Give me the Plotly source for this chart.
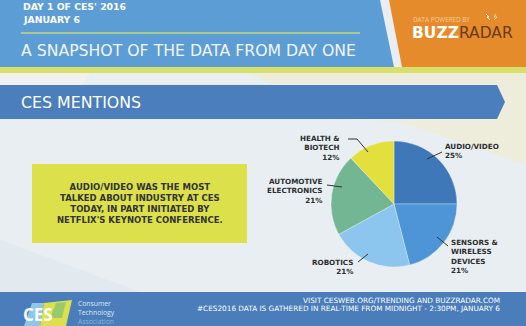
import plotly.graph_objects as go

W, H = 526, 326

categories = ["AUDIO/VIDEO", "SENSORS &<br>WIRELESS<br>DEVICES", "ROBOTICS",
              "AUTOMOTIVE<br>ELECTRONICS", "HEALTH &<br>BIOTECH"]
values = [25, 21, 21, 21, 12]
slice_colors = ["#3F78B9", "#4E95D8", "#8CC5EE", "#73B693", "#E3DF3C"]

header_lines = ["DAY 1 OF CES' 2016", "JANUARY 6"]
header_title = "A SNAPSHOT OF THE DATA FROM DAY ONE"
section_title = "CES MENTIONS"
callout = ["AUDIO/VIDEO WAS THE MOST", "TALKED ABOUT INDUSTRY AT CES",
           "TODAY, IN PART INITIATED BY", "NETFLIX'S KEYNOTE CONFERENCE."]
footer_lines = ["VISIT CESWEB.ORG/TRENDING AND BUZZRADAR.COM",
                "#CES2016 DATA IS GATHERED IN REAL-TIME FROM MIDNIGHT - 2:30PM, JANUARY 6"]
logo_lines = ["Consumer", "Technology", "<span style='color:#8FB2D8'>Association</span>"]


def px(x):
    return x / W


def py(y):
    return 1 - y / H


def rect(x0, y0, x1, y1, color):
    return dict(type="rect", xref="paper", yref="paper", x0=px(x0), x1=px(x1),
                y0=py(y1), y1=py(y0), fillcolor=color, line=dict(width=0), layer="below")


def poly(points, color, layer="below"):
    d = "M " + " L ".join(f"{px(x)},{py(y)}" for x, y in points) + " Z"
    return dict(type="path", xref="paper", yref="paper", path=d, fillcolor=color,
                line=dict(width=0), layer=layer)


def seg(points, color="#333333", width=1):
    d = "M " + " L ".join(f"{px(x)},{py(y)}" for x, y in points)
    return dict(type="path", xref="paper", yref="paper", path=d,
                line=dict(color=color, width=width), layer="above")


def text(x, y, s, size, color, anchor="left", family="DejaVu Sans", bold=False, align=None):
    if bold:
        s = f"<b>{s}</b>"
    return dict(xref="paper", yref="paper", x=px(x), y=py(y), text=s, showarrow=False,
                xanchor=anchor, yanchor="middle", align=align or anchor,
                font=dict(size=size, color=color, family=family))


shapes = [
    rect(0, 0, W, H, "#E8EEF2"),
    poly([(250, 73), (526, 73), (526, 165), (400, 122), (330, 118)], "#EEEDDC"),
    poly([(0, 73), (90, 73), (60, 118), (0, 118)], "#F1F2EF"),
    poly([(0, 240), (140, 292), (0, 292)], "#E2E9EF"),
    rect(0, 0, W, 67, "#5C9DD6"),
    poly([(380, 0), (526, 0), (526, 67), (394, 67)], "#E9EEF2"),
    poly([(389, 0), (526, 0), (526, 67), (402, 67)], "#E58B2C"),
    rect(0, 67, W, 73, "#D8E06A"),
    seg([(21, 33), (360, 33)], "#C3D774", 1.6),
    poly([(0, 85), (497, 85), (505, 102), (497, 119), (0, 119)], "#4A7EBC"),
    rect(32, 164, 247, 243, "#DCE04A"),
    rect(0, 292, W, H, "#4A7DBA"),
    poly([(24, 326), (32, 303), (44, 303), (40, 326)], "#8FC7EA", "above"),
    poly([(40, 326), (44, 303), (72, 300), (66, 326)], "#DDE04C", "above"),
    poly([(50, 318), (56, 303), (66, 302), (62, 318)], "#9ACB6B", "above"),
    # leader lines
    seg([(427, 159), (442, 152)]),
    seg([(348, 139), (357, 139), (368, 152)]),
    seg([(327, 185), (342, 187)]),
    seg([(358, 262), (368, 254)]),
    seg([(437, 237), (448, 246)]),
    # lightning marks
    seg([(486, 14), (489, 17), (487, 17), (490, 20)], "#FFFFFF", 1),
    seg([(496, 14), (494, 17), (497, 17), (494, 20)], "#F6D9A8", 1),
]

F = "DejaVu Sans"
LF = "Open Sans"
LBL = "#2E2E2E"
annotations = [
    text(21, 7, header_lines[0], 9.3, "#FFFFFF", bold=True, family=F),
    text(21, 20, header_lines[1], 9.3, "#FFFFFF", bold=True, family=F),
    text(19, 51, header_title, 15.7, "#F2F6FA", family=F),
    text(411, 19, "DATA POWERED BY", 6.3, "#F7CB96", family=LF),
    text(410, 33, "<b>BUZZ</b><span style='color:#6A3A14'>RADAR</span>", 15.5, "#FFFFFF", family=F),
    text(19, 103, section_title, 15.8, "#FFFFFF", family=F),
    text(140, 203, "<br>".join(callout), 8.5, "#333333", anchor="center", bold=True, family=F),
    text(443, 151, "AUDIO/VIDEO<br>25%", 7.2, LBL, bold=True, family=F),
    text(449, 256, "SENSORS &<br>WIRELESS<br>DEVICES<br>21%", 7.2, LBL, bold=True, family=F),
    text(355, 267, "ROBOTICS<br>21%", 7.2, LBL, anchor="right", bold=True, family=F),
    text(325, 191, "AUTOMOTIVE<br>ELECTRONICS<br>21%", 7.2, LBL, anchor="right", bold=True, family=F),
    text(342, 148, "HEALTH &<br>BIOTECH<br>12%", 7.2, LBL, anchor="right", bold=True, family=F),
    text(502, 300, footer_lines[0], 7.3, "#FFFFFF", anchor="right", family=F),
    text(502, 308, footer_lines[1], 7.3, "#FFFFFF", anchor="right", family=F),
    text(21, 314, "CES", 17, "#FFFFFF", family=LF, bold=True),
    text(76, 312, "<br>".join(logo_lines), 6.8, "#DCE8F5", family=LF),
]

fig = go.Figure(go.Pie(
    labels=categories, values=values, sort=False, direction="clockwise", rotation=0,
    marker=dict(colors=slice_colors, line=dict(color="rgba(255,255,255,0.5)", width=0.6)),
    textinfo="none", hoverinfo="label+percent", showlegend=False,
    domain=dict(x=[px(331), px(457)], y=[py(267), py(141)]),
))

fig.update_layout(
    width=W, height=H, margin=dict(l=0, r=0, t=0, b=0),
    paper_bgcolor="#E8EEF2", plot_bgcolor="#E8EEF2",
    shapes=shapes, annotations=annotations, showlegend=False,
)

fig.write_html("out.html")
